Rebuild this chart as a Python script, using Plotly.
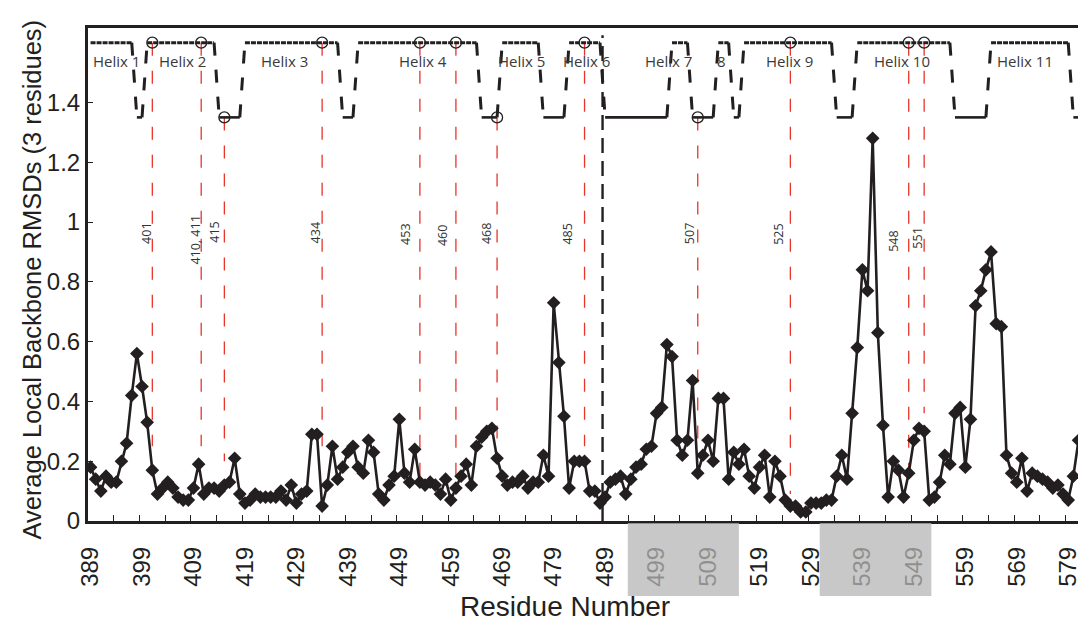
import plotly.graph_objects as go

# ---- data -------------------------------------------------------------
residues = list(range(389, 582))
rmsd = [
    0.18, 0.14, 0.10, 0.15, 0.13, 0.13, 0.20, 0.26, 0.42, 0.56,   # 389-398
    0.45, 0.33, 0.17, 0.09, 0.11, 0.13, 0.11, 0.08, 0.07, 0.07,   # 399-408
    0.11, 0.19, 0.09, 0.11, 0.11, 0.10, 0.12, 0.13, 0.21, 0.09,   # 409-418
    0.06, 0.07, 0.09, 0.08, 0.08, 0.08, 0.08, 0.10, 0.07, 0.12,   # 419-428
    0.06, 0.09, 0.10, 0.29, 0.29, 0.05, 0.12, 0.25, 0.14, 0.18,   # 429-438
    0.23, 0.25, 0.18, 0.16, 0.27, 0.23, 0.09, 0.07, 0.12, 0.15,   # 439-448
    0.34, 0.16, 0.13, 0.24, 0.13, 0.12, 0.13, 0.12, 0.09, 0.14,   # 449-458
    0.07, 0.11, 0.15, 0.19, 0.12, 0.25, 0.28, 0.30, 0.31, 0.21,   # 459-468
    0.15, 0.12, 0.13, 0.13, 0.15, 0.11, 0.13, 0.13, 0.22, 0.15,   # 469-478
    0.73, 0.53, 0.35, 0.11, 0.20, 0.20, 0.20, 0.10, 0.10, 0.06,   # 479-488
    0.08, 0.13, 0.14, 0.15, 0.09, 0.14, 0.18, 0.19, 0.24, 0.25,   # 489-498
    0.36, 0.38, 0.59, 0.55, 0.27, 0.22, 0.27, 0.47, 0.16, 0.22,   # 499-508
    0.27, 0.20, 0.41, 0.41, 0.14, 0.23, 0.19, 0.24, 0.15, 0.11,   # 509-518
    0.18, 0.22, 0.08, 0.20, 0.15, 0.07, 0.05, 0.05, 0.03, 0.03,   # 519-528
    0.06, 0.06, 0.06, 0.07, 0.07, 0.15, 0.22, 0.14, 0.36, 0.58,   # 529-538
    0.84, 0.77, 1.28, 0.63, 0.32, 0.08, 0.20, 0.17, 0.08, 0.16,   # 539-548
    0.27, 0.31, 0.30, 0.07, 0.08, 0.13, 0.22, 0.19, 0.36, 0.38,   # 549-558
    0.18, 0.34, 0.72, 0.77, 0.84, 0.90, 0.66, 0.65, 0.22, 0.16,   # 559-568
    0.13, 0.21, 0.10, 0.16, 0.15, 0.14, 0.13, 0.11, 0.12, 0.09,   # 569-578
    0.07, 0.15, 0.27,                                             # 579-581
]

helix_names = ["Helix 1", "Helix 2", "Helix 3", "Helix 4", "Helix 5", "Helix 6",
               "Helix 7", "8", "Helix 9", "Helix 10", "Helix 11"]
helix_start = [389, 400, 419, 441, 469, 482, 502, 511, 516, 538, 564]
helix_end = [397, 413, 437, 464, 476, 488, 505, 513, 533, 556, 579]
helix_label_pos = [394.1, 406.9, 426.7, 453.6, 472.8, 485.4, 501.3, 511.7, 524.9, 546.6, 570.6]

# marked residues and where their guide lines stop
marked_sites = [[401], [410, 411], [415], [434], [453], [460], [468], [485],
                [507], [525], [548], [551]]
guide_floor = [0.25, 0.25, 0.20, 0.25, 0.15, 0.15, 0.23, 0.25, 0.22, 0.09, 0.15, 0.36]

domain_boundary = 488.5
shaded_ranges = [[493.4, 515.0], [530.7, 552.4]]

x_tick_labels = list(range(389, 580, 10))
y_ticks = [0, 0.2, 0.4, 0.6, 0.8, 1.0, 1.2, 1.4]

HELIX_LEVEL, LOOP_LEVEL = 1.6, 1.35

# ---- styling ------------------------------------------------------------
INK = "#231f20"
RED = "#e8352b"
W, H = 1081, 626
ML, MT, MB = 88, 28, 105
X_RANGE = [388.5, 580.9]
Y_RANGE = [0, 1.649]


def in_helix(r):
    return any(s <= r <= e for s, e in zip(helix_start, helix_end))


level = [HELIX_LEVEL if in_helix(r) else LOOP_LEVEL for r in residues]

# helix plateaus, loop troughs and the steps between them
top_x, top_y, bot_x, bot_y, step_x, step_y = [], [], [], [], [], []
run_start = 0
for i in range(1, len(residues) + 1):
    if i == len(residues) or level[i] != level[run_start]:
        xs = [residues[run_start], residues[i - 1]]
        if level[run_start] == HELIX_LEVEL:
            top_x += xs + [None]
            top_y += [HELIX_LEVEL, HELIX_LEVEL, None]
        else:
            bot_x += xs + [None]
            bot_y += [LOOP_LEVEL, LOOP_LEVEL, None]
        if i < len(residues):
            step_x += [residues[i - 1], residues[i], None]
            step_y += [level[i - 1], level[i], None]
        run_start = i

fig = go.Figure()

# red guide lines from the marked residues down towards the profile
site_x = [sum(s) / len(s) for s in marked_sites]
site_level = [HELIX_LEVEL if in_helix(x) else LOOP_LEVEL for x in site_x]
for x, top, floor in zip(site_x, site_level, guide_floor):
    fig.add_trace(go.Scatter(
        x=[x, x], y=[top, floor], mode="lines",
        line=dict(color=RED, width=1.3, dash="13px,15px"),
        hoverinfo="skip", showlegend=False))

# domain boundary
fig.add_trace(go.Scatter(
    x=[domain_boundary, domain_boundary], y=[0, 1.625], mode="lines",
    line=dict(color=INK, width=2.4, dash="15px,8px"),
    hoverinfo="skip", showlegend=False))

# secondary-structure trace
fig.add_trace(go.Scatter(x=top_x, y=top_y, mode="lines",
                         line=dict(color=INK, width=3, dash="5px,1px"),
                         hoverinfo="skip", showlegend=False))
fig.add_trace(go.Scatter(x=bot_x, y=bot_y, mode="lines",
                         line=dict(color=INK, width=2.6),
                         hoverinfo="skip", showlegend=False))
fig.add_trace(go.Scatter(x=step_x, y=step_y, mode="lines",
                         line=dict(color=INK, width=3, dash="13px,14px"),
                         hoverinfo="skip", showlegend=False))

# circles on the marked residues
fig.add_trace(go.Scatter(
    x=site_x, y=site_level, mode="markers",
    marker=dict(symbol="circle-open", size=11, color=INK, line=dict(width=1.3, color=INK)),
    hoverinfo="skip", showlegend=False))

# RMSD profile
fig.add_trace(go.Scatter(
    x=residues, y=rmsd, mode="lines+markers",
    line=dict(color=INK, width=2.6),
    marker=dict(symbol="diamond", size=10.5, color=INK),
    showlegend=False))

# invisible carrier for the label axis
fig.add_trace(go.Scatter(x=[x_tick_labels[0]], y=[0], xaxis="x2", mode="markers",
                         marker=dict(opacity=0), hoverinfo="skip", showlegend=False))

# helix names
for name, x in zip(helix_names, helix_label_pos):
    fig.add_annotation(x=x, y=1.54, text=name, showarrow=False,
                       font=dict(family="Open Sans", size=15, color="#3a3a3a"))

# residue numbers beside the guide lines
site_text = [", ".join(str(v) for v in s) for s in marked_sites]
label_shift = [-6.5, -5.6, -9.8, -6.8, -14, -14, -10, -17, -7.6, -11.5, -16, -6.7]
label_y = [0.963, 0.94, 0.966, 0.963, 0.96, 0.956, 0.96, 0.96, 0.96, 0.96, 0.936, 0.946]
for x, t, dx, yy in zip(site_x, site_text, label_shift, label_y):
    fig.add_annotation(x=x, y=yy, text=t, showarrow=False, textangle=-90, xshift=dx,
                       font=dict(family="Open Sans", size=12.5, color="#333333"))

# grey bands over the axis labels
for x0, x1 in shaded_ranges:
    fig.add_shape(type="rect", xref="x", yref="paper", x0=x0, x1=x1, y0=-0.004, y1=-0.152,
                  fillcolor="rgb(181,181,181)", opacity=0.75, line=dict(width=0),
                  layer="above")

fig.add_annotation(xref="paper", yref="paper", x=(566 - ML) / (W - ML), y=-0.174,
                   xanchor="center", yanchor="middle",
                   text="Residue Number", showarrow=False,
                   font=dict(family="Liberation Sans", size=28, color=INK))
fig.add_annotation(xref="paper", yref="paper", x=(32 - ML) / (W - ML), y=0.49,
                   xanchor="center", yanchor="middle",
                   text="Average Local Backbone RMSDs (3 residues)", showarrow=False,
                   textangle=-90,
                   font=dict(family="Liberation Sans", size=25.5, color=INK))

fig.update_layout(
    width=W, height=H,
    margin=dict(l=ML, r=0, t=MT, b=MB, pad=0),
    paper_bgcolor="white", plot_bgcolor="white",
    xaxis=dict(range=X_RANGE, tickvals=[388.5 + 5 * k for k in range(39)],
               showticklabels=False, ticks="inside", ticklen=6, tickwidth=1.2,
               tickcolor=INK, showline=True, linewidth=3, linecolor=INK,
               mirror=True, showgrid=False, zeroline=False),
    xaxis2=dict(range=X_RANGE, overlaying="x", anchor="y", side="bottom",
                tickvals=x_tick_labels, ticktext=[str(v) for v in x_tick_labels],
                tickangle=-90, ticks="", showline=False, showgrid=False, zeroline=False,
                ticklabelstandoff=20, ticklabeloverflow="allow",
                tickfont=dict(family="Liberation Sans", size=24, color=INK)),
    yaxis=dict(range=Y_RANGE, tickvals=y_ticks,
               ticktext=["0", "0.2", "0.4", "0.6", "0.8", "1", "1.2", "1.4"],
               ticks="inside", ticklen=5, tickwidth=1.2, tickcolor=INK,
               showline=True, linewidth=3, linecolor=INK, showgrid=False, zeroline=False,
               ticklabelstandoff=0,
               tickfont=dict(family="Liberation Sans", size=24, color=INK)),
)

fig.write_html("out.html")
